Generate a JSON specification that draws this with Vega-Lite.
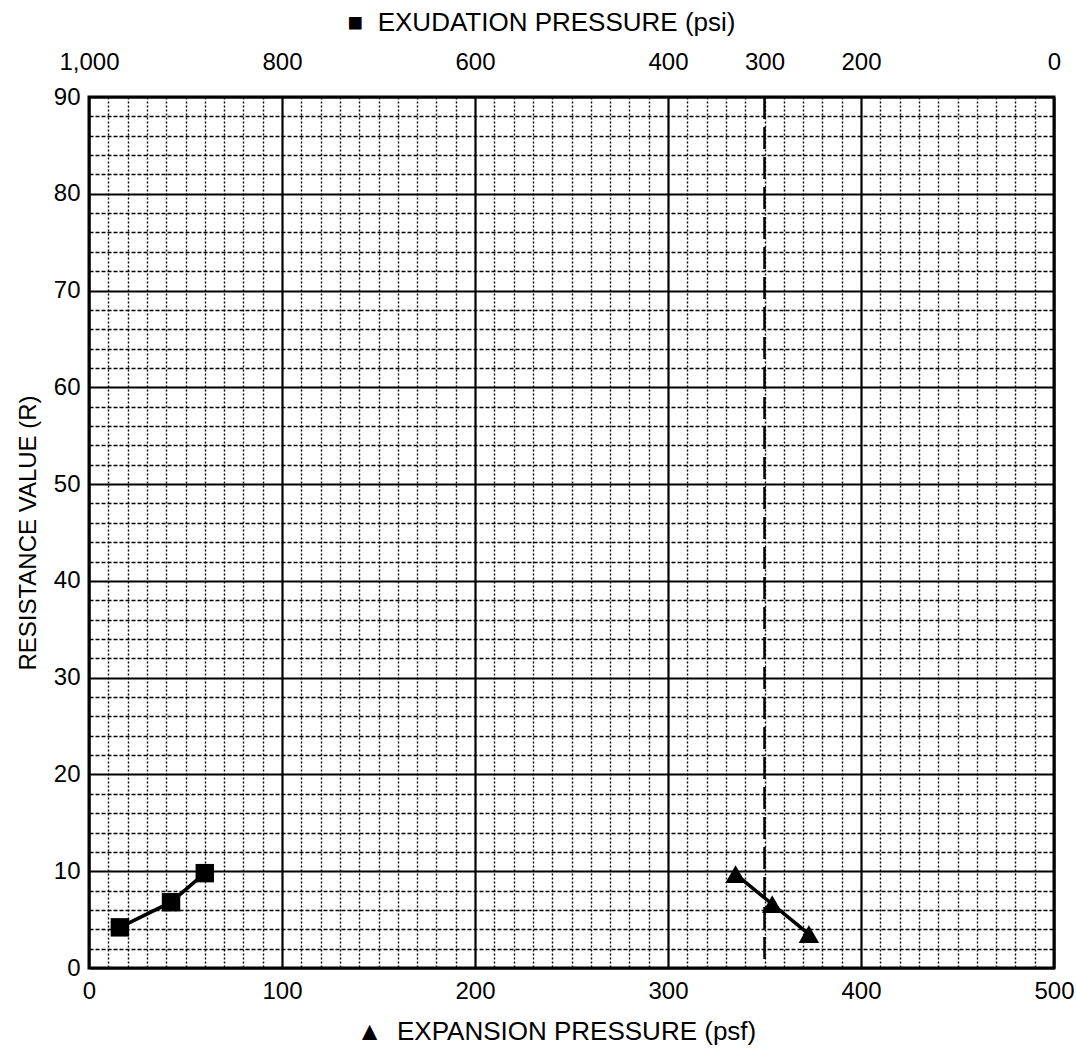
{
  "$schema": "https://vega.github.io/schema/vega-lite/v6.json",
  "width": 965,
  "height": 871,
  "autosize": {"type": "none"},
  "padding": {"left": 89, "top": 97, "right": 22, "bottom": 81},
  "background": "white",
  "datasets": {
    "expansion": [
      {"psf": 335, "R": 9.7},
      {"psf": 354, "R": 6.6},
      {"psf": 373, "R": 3.5}
    ],
    "exudation": [
      {"psi": 968, "R": 4.2},
      {"psi": 915, "R": 6.8},
      {"psi": 880, "R": 9.8}
    ],
    "limit": [{"psf": 350}]
  },
  "config": {
    "view": {"stroke": "black", "strokeWidth": 3},
    "axis": {
      "labelFont": "Liberation Sans",
      "labelFontSize": 24,
      "labelColor": "black",
      "titleFont": "Liberation Sans",
      "titleFontSize": 26,
      "titleFontWeight": "normal",
      "titleColor": "black",
      "domain": false,
      "ticks": false,
      "tickSize": 0,
      "labelOverlap": false,
      "labelFlush": false
    }
  },
  "layer": [
    {
      "layer": [
        {
          "data": {"name": "limit"},
          "mark": {"type": "rule", "color": "black", "strokeWidth": 2.5, "strokeDash": [22, 8]},
          "encoding": {
            "x": {
              "field": "psf",
              "type": "quantitative",
              "scale": {"domain": [0, 500], "nice": false, "zero": false},
              "axis": {
                "title": "▲\u00a0 EXPANSION PRESSURE (psf)",
                "values": [0,10,20,30,40,50,60,70,80,90,100,110,120,130,140,150,160,170,180,190,200,210,220,230,240,250,260,270,280,290,300,310,320,330,340,350,360,370,380,390,400,410,420,430,440,450,460,470,480,490,500],
                "tickCount": 200,
                "format": "d",
                "labelExpr": "datum.value % 100 === 0 ? datum.label : ''",
                "grid": true,
                "gridColor": "black",
                "gridOpacity": 1,
                "gridWidth": {"condition": {"test": "datum.value % 100 === 0", "value": 2.2}, "value": 1.4},
                "gridDash": {"condition": {"test": "datum.value % 100 === 0", "value": []}, "value": [2, 2]},
                "labelPadding": 11,
                "titlePadding": 15,
                "titleX": 467
              }
            }
          }
        },
        {
          "data": {"name": "expansion"},
          "mark": {"type": "line", "color": "black", "strokeWidth": 3.5},
          "encoding": {
            "x": {"field": "psf", "type": "quantitative", "scale": {"domain": [0, 500], "nice": false, "zero": false}},
            "y": {
              "field": "R",
              "type": "quantitative",
              "scale": {"domain": [0, 90], "nice": false},
              "axis": {
                "title": "RESISTANCE VALUE (R)",
                "titleFontSize": 24,
                "values": [0,2,4,6,8,10,12,14,16,18,20,22,24,26,28,30,32,34,36,38,40,42,44,46,48,50,52,54,56,58,60,62,64,66,68,70,72,74,76,78,80,82,84,86,88,90],
                "tickCount": 200,
                "format": "d",
                "labelExpr": "datum.value % 10 === 0 ? datum.label : ''",
                "grid": true,
                "gridColor": "black",
                "gridOpacity": 1,
                "gridWidth": {"condition": {"test": "datum.value % 10 === 0", "value": 2.2}, "value": 1.4},
                "gridDash": {"condition": {"test": "datum.value % 10 === 0", "value": []}, "value": [4, 2]},
                "labelPadding": 9,
                "titlePadding": 13
              }
            }
          }
        },
        {
          "data": {"name": "expansion"},
          "mark": {"type": "point", "shape": "triangle-up", "filled": true, "color": "black", "opacity": 1, "size": 420},
          "encoding": {
            "x": {"field": "psf", "type": "quantitative", "scale": {"domain": [0, 500], "nice": false, "zero": false}},
            "y": {"field": "R", "type": "quantitative", "scale": {"domain": [0, 90], "nice": false}}
          }
        }
      ]
    },
    {
      "data": {"name": "exudation"},
      "layer": [
        {
          "mark": {"type": "line", "color": "black", "strokeWidth": 3.5},
          "encoding": {
            "x": {
              "field": "psi",
              "type": "quantitative",
              "scale": {"domain": [0, 1000], "reverse": true, "nice": false, "zero": false},
              "axis": {
                "orient": "top",
                "title": "■\u00a0 EXUDATION PRESSURE (psi)",
                "values": [1000, 800, 600, 400, 300, 200, 0],
                "tickCount": 200,
                "format": ",d",
                "grid": false,
                "labelPadding": 23,
                "titlePadding": 15,
                "titleX": 452
              }
            },
            "y": {"field": "R", "type": "quantitative", "scale": {"domain": [0, 90], "nice": false}}
          }
        },
        {
          "mark": {"type": "point", "shape": "square", "filled": true, "color": "black", "opacity": 1, "size": 340},
          "encoding": {
            "x": {"field": "psi", "type": "quantitative", "scale": {"domain": [0, 1000], "reverse": true, "nice": false, "zero": false}},
            "y": {"field": "R", "type": "quantitative", "scale": {"domain": [0, 90], "nice": false}}
          }
        }
      ]
    }
  ],
  "resolve": {"scale": {"x": "independent"}}
}
